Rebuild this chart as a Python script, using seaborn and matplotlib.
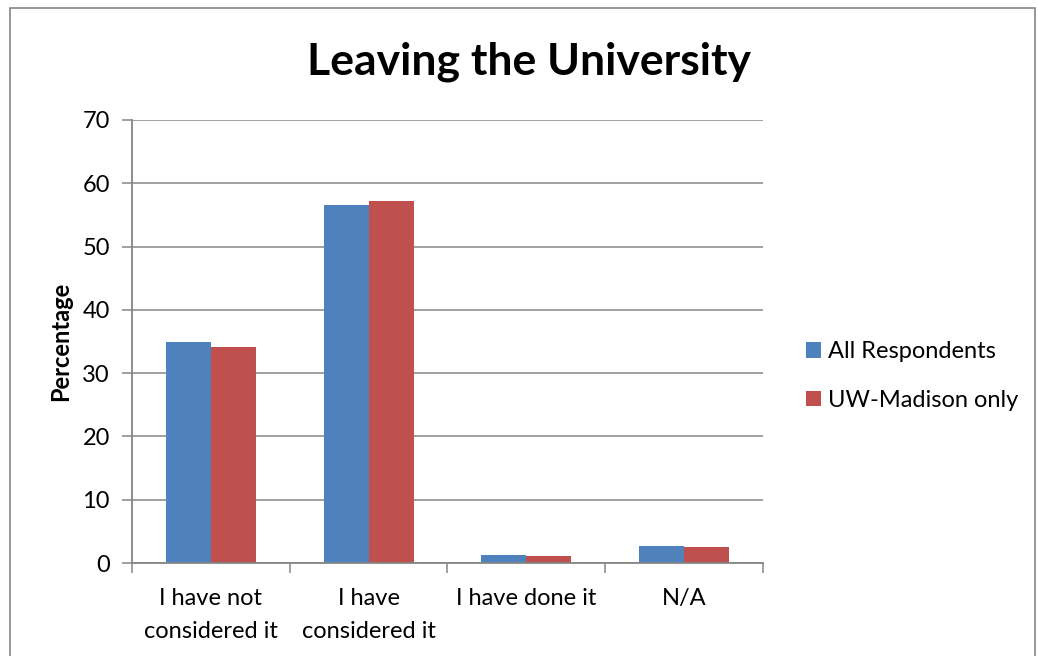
import matplotlib
matplotlib.use("Agg")
import matplotlib.pyplot as plt
import seaborn as sns
import pandas as pd
from matplotlib.patches import Rectangle
from matplotlib.ticker import FixedLocator

categories = ["I have not\nconsidered it", "I have\nconsidered it", "I have done it", "N/A"]
series = ["All Respondents", "UW-Madison only"]
all_respondents = [34.9, 56.6, 1.3, 2.7]
uw_madison = [34.2, 57.2, 1.15, 2.45]
colors = ["#4F81BD", "#C0504D"]
y_ticks = [0, 10, 20, 30, 40, 50, 60, 70]

df = pd.DataFrame({
    "category": categories * 2,
    "series": [series[0]] * 4 + [series[1]] * 4,
    "value": all_respondents + uw_madison,
})

sns.set_theme(style="white")
plt.rcParams["font.family"] = ["Lato", "DejaVu Sans"]
plt.rcParams["text.color"] = "black"
plt.rcParams["xtick.color"] = "black"
plt.rcParams["ytick.color"] = "black"
plt.rcParams["axes.labelcolor"] = "black"

W, H = 1038, 656
fig = plt.figure(figsize=(W / 100, H / 100), dpi=100)
ax = fig.add_axes([132 / W, 1 - 563 / H, (763 - 132) / W, (563 - 120) / H])

sns.barplot(data=df, x="category", y="value", hue="series", palette=colors,
            saturation=1, width=0.571, gap=0, ax=ax, order=categories,
            hue_order=series, linewidth=0)

grid_c = "#868686"
ax.set_ylim(0, 70)
ax.set_xlim(-0.5, 3.5)
ax.set_yticks(y_ticks)
ax.yaxis.grid(True, color=grid_c, linewidth=1.1)
ax.set_axisbelow(True)
for s in ["top", "right"]:
    ax.spines[s].set_visible(False)
for s in ["left", "bottom"]:
    ax.spines[s].set_color(grid_c)
    ax.spines[s].set_linewidth(1.3)

ax.tick_params(axis="y", which="major", length=7, width=1.1, color=grid_c,
               labelcolor="black", direction="out", labelsize=17, pad=9, left=True)
ax.tick_params(axis="x", which="major", length=0, labelsize=17, pad=18,
               labelcolor="black")
ax.xaxis.set_minor_locator(FixedLocator([-0.5, 0.5, 1.5, 2.5, 3.5]))
ax.tick_params(axis="x", which="minor", length=7, width=1.1, color=grid_c,
               direction="out", bottom=True)
for lab in ax.get_xticklabels():
    lab.set_linespacing(1.68)

ax.set_xlabel("")
ax.set_ylabel("Percentage", fontsize=17, fontweight="bold", labelpad=7)

ax.legend(loc="center left", bbox_to_anchor=(1.068, 0.422), frameon=False,
          fontsize=17, handlelength=0.64, handleheight=0.64, handletextpad=0.3,
          labelspacing=1.17, borderpad=0, borderaxespad=0)

fig.text(529 / W, 1 - 62 / H, "Leaving the University", ha="center", va="center",
         fontsize=32, fontweight="bold", color="black")

fig.patches.append(Rectangle((10 / W, -0.01), (1035 - 10) / W, 1 - 8 / H + 0.01,
                             transform=fig.transFigure, fill=False,
                             edgecolor="#868686", linewidth=1.2))

fig.savefig("out.png", dpi=100)
